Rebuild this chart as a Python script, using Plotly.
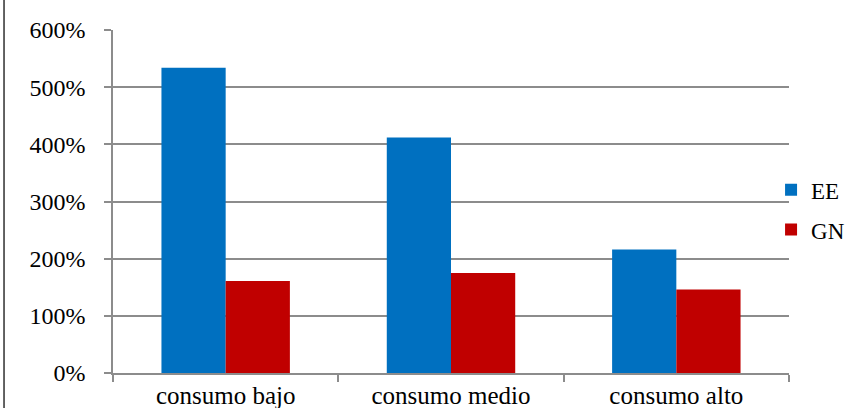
import plotly.graph_objects as go

categories = ["consumo bajo", "consumo medio", "consumo alto"]
ee_values = [5.34, 4.12, 2.16]
gn_values = [1.61, 1.75, 1.46]
y_ticks = [0, 1, 2, 3, 4, 5, 6]
y_ticklabels = ["0%", "100%", "200%", "300%", "400%", "500%", "600%"]

FONT = "Liberation Serif, Times New Roman, serif"
GRID = "#8c8c8c"

fig = go.Figure()
fig.add_trace(go.Bar(name="EE", x=categories, y=ee_values, marker_color="#0070C0",
                     marker_line_width=0, legendgroup="a"))
fig.add_trace(go.Bar(name="GN", x=categories, y=gn_values, marker_color="#C00000",
                     marker_line_width=0, legendgroup="b"))

fig.update_layout(
    width=852, height=408,
    margin=dict(l=113, r=63, t=30, b=35, autoexpand=False),
    paper_bgcolor="white", plot_bgcolor="white",
    barmode="group", bargap=0.43, bargroupgap=0,
    font=dict(family=FONT, size=23, color="black"),
    legend=dict(xref="container", yref="container", x=0.905, xanchor="left",
                y=0.486, yanchor="middle",
                font=dict(family=FONT, size=23, color="black"),
                tracegroupgap=7, itemwidth=30, bgcolor="rgba(0,0,0,0)"),
    showlegend=True,
)
fig.update_xaxes(
    showline=True, linecolor=GRID, linewidth=1.5,
    ticks="outside", tickson="boundaries", ticklen=7, tickcolor=GRID, tickwidth=1.5,
    showgrid=False, ticklabelstandoff=-1, tickfont=dict(family=FONT, size=25, color="black"),
)
fig.update_yaxes(
    range=[0, 6], tickvals=y_ticks, ticktext=y_ticklabels,
    showline=True, linecolor=GRID, linewidth=1.5,
    ticks="outside", ticklen=7, tickcolor=GRID, tickwidth=1.5,
    showgrid=True, gridcolor=GRID, gridwidth=1.5, zeroline=False,
    ticklabelstandoff=14, tickfont=dict(family=FONT, size=24, color="black"),
)
fig.add_shape(type="line", xref="paper", yref="paper",
              x0=-0.1612, x1=-0.1612, y0=-0.2, y1=1.2,
              line=dict(color="#303030", width=1.5))

fig.write_html("out.html", config={"displayModeBar": False},
               post_script="document.body.style.margin='0';")
